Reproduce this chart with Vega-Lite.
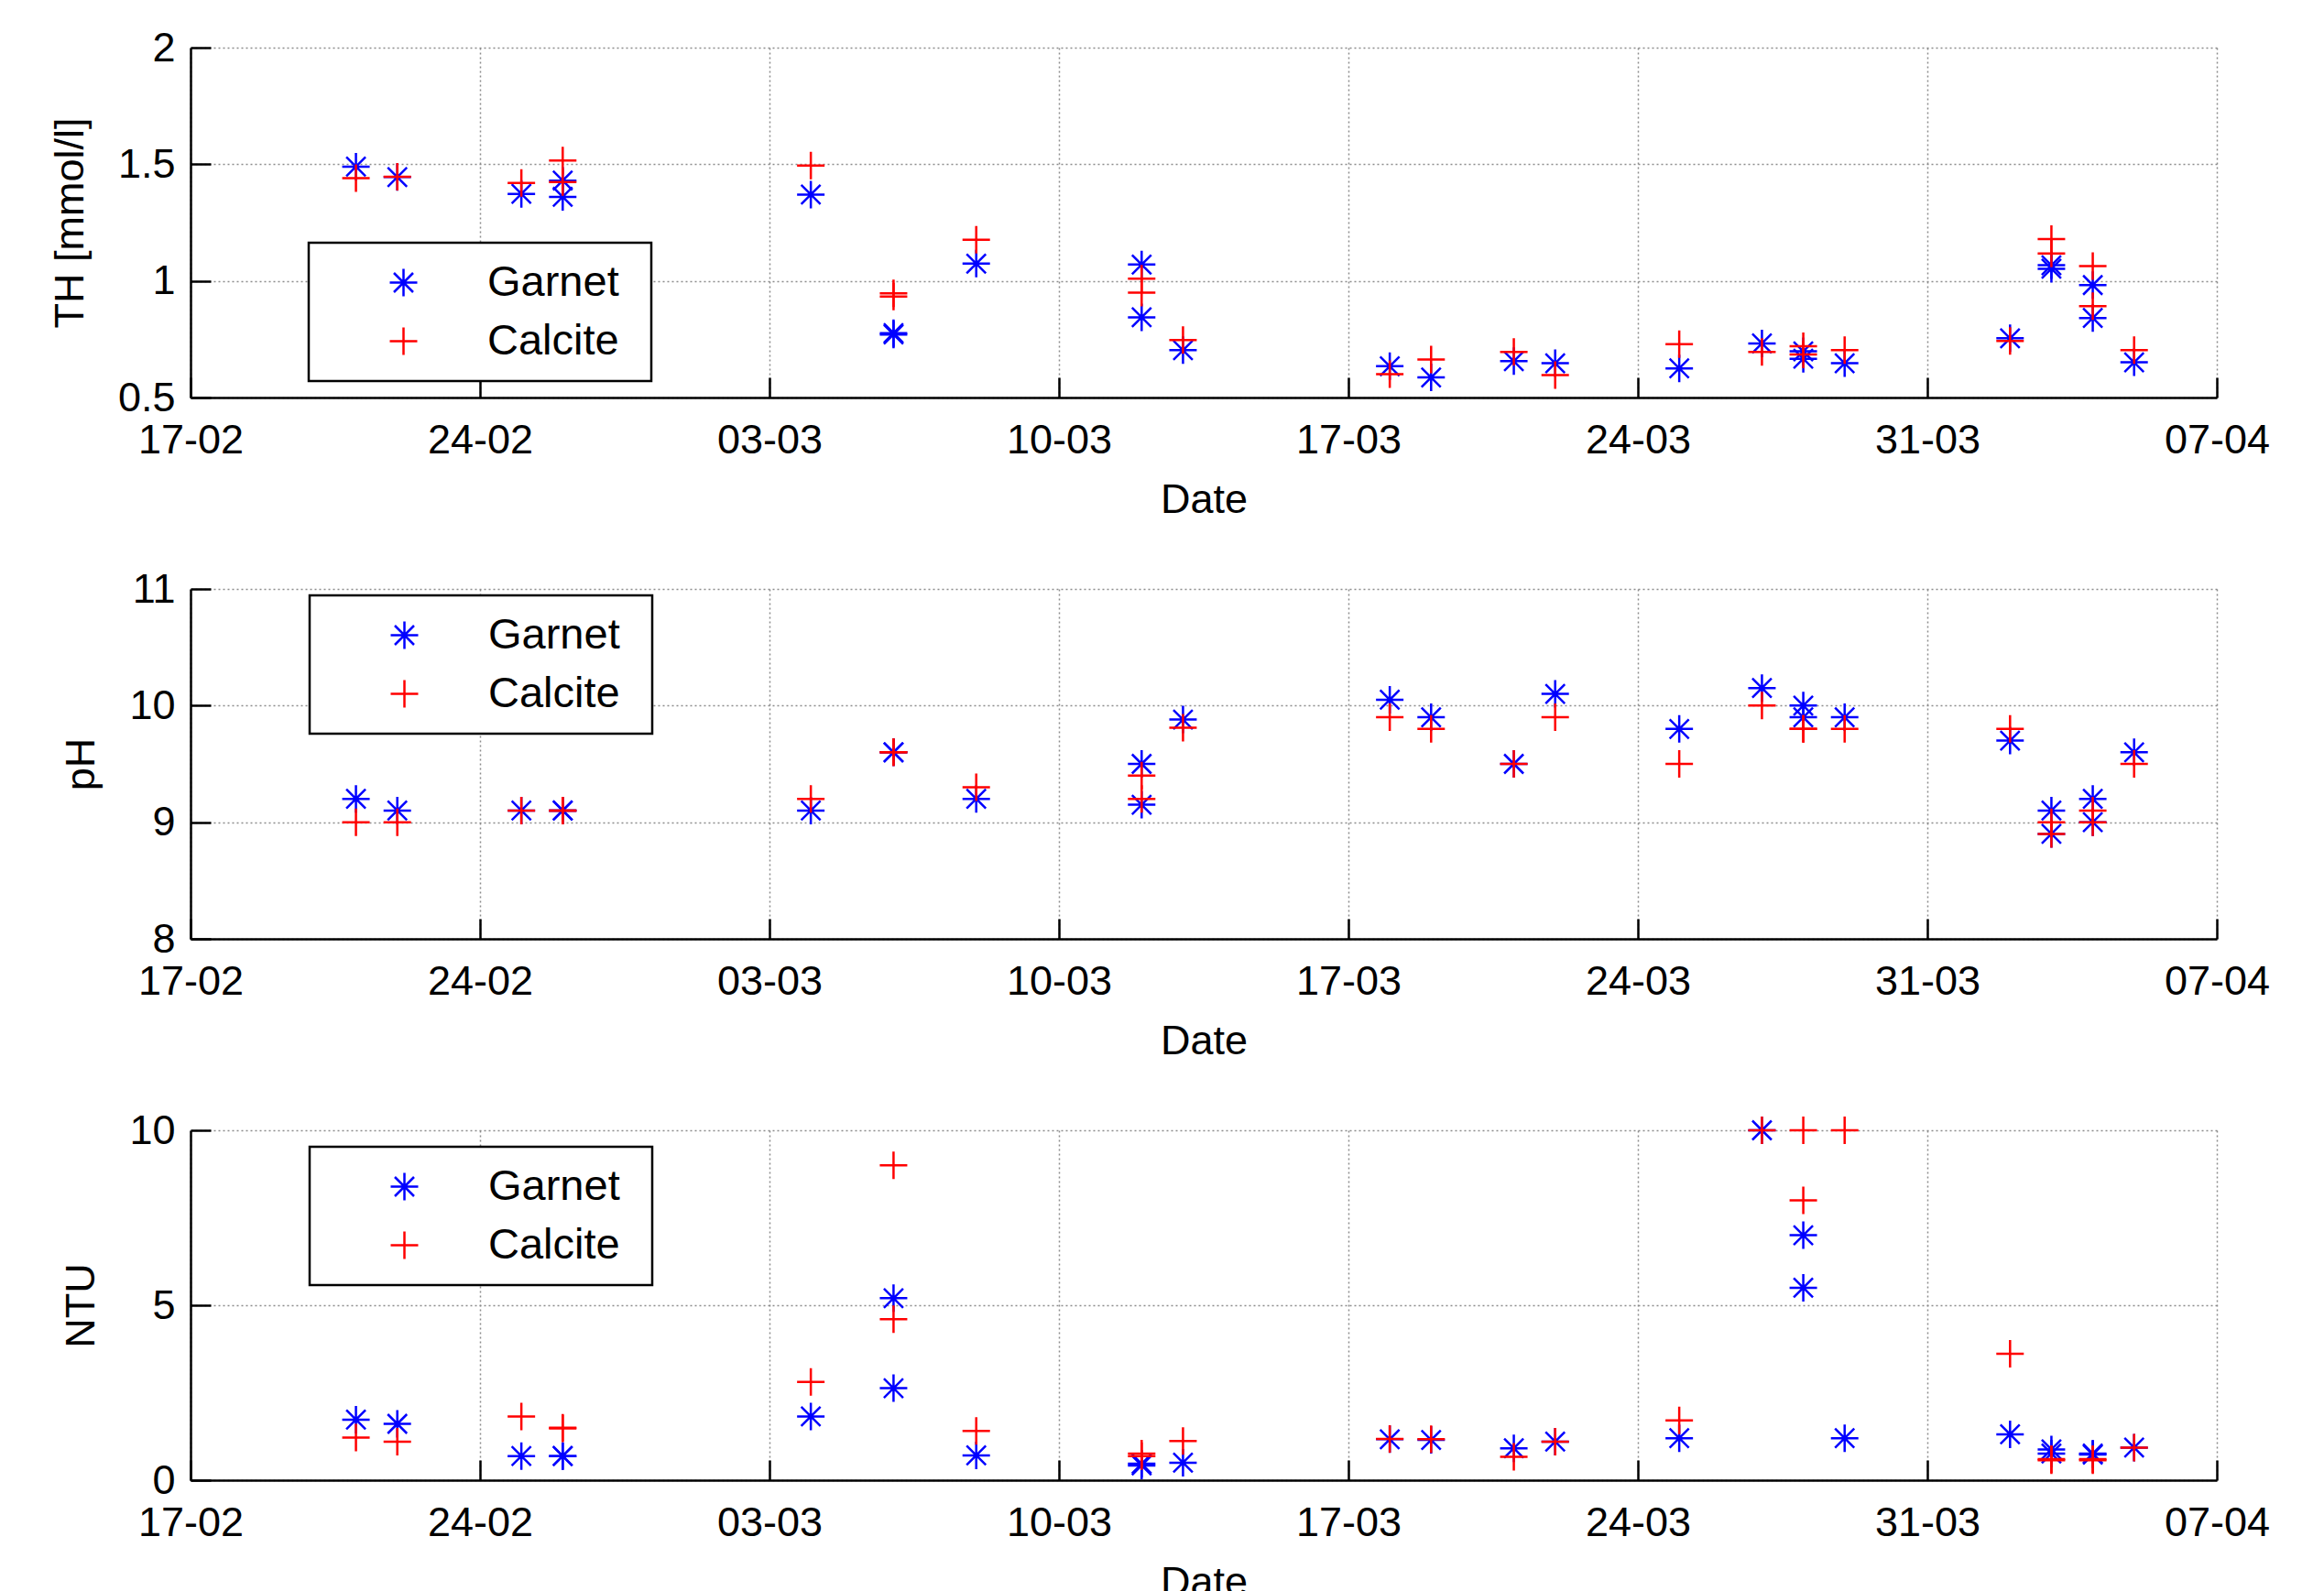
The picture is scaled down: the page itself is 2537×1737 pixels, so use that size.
{
  "$schema": "https://vega.github.io/schema/vega-lite/v6.json",
  "padding": {"top": 30, "left": 54, "right": 0, "bottom": 0},
  "background": "white",
  "spacing": 53,
  "data": {"values": [
    {"date":"2015-02-21","material":"Garnet","param":"TH","value":1.49},
    {"date":"2015-02-22","material":"Garnet","param":"TH","value":1.445},
    {"date":"2015-02-25","material":"Garnet","param":"TH","value":1.373},
    {"date":"2015-02-26","material":"Garnet","param":"TH","value":1.43},
    {"date":"2015-02-26","material":"Garnet","param":"TH","value":1.36},
    {"date":"2015-03-04","material":"Garnet","param":"TH","value":1.37},
    {"date":"2015-03-06","material":"Garnet","param":"TH","value":0.776},
    {"date":"2015-03-06","material":"Garnet","param":"TH","value":0.77},
    {"date":"2015-03-08","material":"Garnet","param":"TH","value":1.074},
    {"date":"2015-03-12","material":"Garnet","param":"TH","value":1.07},
    {"date":"2015-03-12","material":"Garnet","param":"TH","value":0.844},
    {"date":"2015-03-13","material":"Garnet","param":"TH","value":0.703},
    {"date":"2015-03-18","material":"Garnet","param":"TH","value":0.634},
    {"date":"2015-03-19","material":"Garnet","param":"TH","value":0.586},
    {"date":"2015-03-21","material":"Garnet","param":"TH","value":0.656},
    {"date":"2015-03-22","material":"Garnet","param":"TH","value":0.647},
    {"date":"2015-03-25","material":"Garnet","param":"TH","value":0.625},
    {"date":"2015-03-27","material":"Garnet","param":"TH","value":0.732},
    {"date":"2015-03-28","material":"Garnet","param":"TH","value":0.698},
    {"date":"2015-03-28","material":"Garnet","param":"TH","value":0.666},
    {"date":"2015-03-29","material":"Garnet","param":"TH","value":0.647},
    {"date":"2015-04-02","material":"Garnet","param":"TH","value":0.754},
    {"date":"2015-04-03","material":"Garnet","param":"TH","value":1.067},
    {"date":"2015-04-03","material":"Garnet","param":"TH","value":1.052},
    {"date":"2015-04-04","material":"Garnet","param":"TH","value":0.982},
    {"date":"2015-04-04","material":"Garnet","param":"TH","value":0.841},
    {"date":"2015-04-05","material":"Garnet","param":"TH","value":0.651},
    {"date":"2015-02-21","material":"Calcite","param":"TH","value":1.44},
    {"date":"2015-02-22","material":"Calcite","param":"TH","value":1.446},
    {"date":"2015-02-25","material":"Calcite","param":"TH","value":1.42},
    {"date":"2015-02-26","material":"Calcite","param":"TH","value":1.516},
    {"date":"2015-02-26","material":"Calcite","param":"TH","value":1.424},
    {"date":"2015-03-04","material":"Calcite","param":"TH","value":1.494},
    {"date":"2015-03-06","material":"Calcite","param":"TH","value":0.947},
    {"date":"2015-03-06","material":"Calcite","param":"TH","value":0.933},
    {"date":"2015-03-08","material":"Calcite","param":"TH","value":1.176},
    {"date":"2015-03-12","material":"Calcite","param":"TH","value":1.009},
    {"date":"2015-03-12","material":"Calcite","param":"TH","value":0.95},
    {"date":"2015-03-13","material":"Calcite","param":"TH","value":0.746},
    {"date":"2015-03-18","material":"Calcite","param":"TH","value":0.6},
    {"date":"2015-03-19","material":"Calcite","param":"TH","value":0.663},
    {"date":"2015-03-21","material":"Calcite","param":"TH","value":0.695},
    {"date":"2015-03-22","material":"Calcite","param":"TH","value":0.596},
    {"date":"2015-03-25","material":"Calcite","param":"TH","value":0.729},
    {"date":"2015-03-27","material":"Calcite","param":"TH","value":0.695},
    {"date":"2015-03-28","material":"Calcite","param":"TH","value":0.72},
    {"date":"2015-03-28","material":"Calcite","param":"TH","value":0.685},
    {"date":"2015-03-29","material":"Calcite","param":"TH","value":0.703},
    {"date":"2015-04-02","material":"Calcite","param":"TH","value":0.742},
    {"date":"2015-04-03","material":"Calcite","param":"TH","value":1.179},
    {"date":"2015-04-03","material":"Calcite","param":"TH","value":1.117},
    {"date":"2015-04-04","material":"Calcite","param":"TH","value":1.063},
    {"date":"2015-04-04","material":"Calcite","param":"TH","value":0.892},
    {"date":"2015-04-05","material":"Calcite","param":"TH","value":0.703},

    {"date":"2015-02-21","material":"Garnet","param":"pH","value":9.2},
    {"date":"2015-02-22","material":"Garnet","param":"pH","value":9.1},
    {"date":"2015-02-25","material":"Garnet","param":"pH","value":9.1},
    {"date":"2015-02-26","material":"Garnet","param":"pH","value":9.1},
    {"date":"2015-02-26","material":"Garnet","param":"pH","value":9.1},
    {"date":"2015-03-04","material":"Garnet","param":"pH","value":9.1},
    {"date":"2015-03-06","material":"Garnet","param":"pH","value":9.6},
    {"date":"2015-03-06","material":"Garnet","param":"pH","value":9.6},
    {"date":"2015-03-08","material":"Garnet","param":"pH","value":9.2},
    {"date":"2015-03-12","material":"Garnet","param":"pH","value":9.5},
    {"date":"2015-03-12","material":"Garnet","param":"pH","value":9.15},
    {"date":"2015-03-13","material":"Garnet","param":"pH","value":9.88},
    {"date":"2015-03-18","material":"Garnet","param":"pH","value":10.05},
    {"date":"2015-03-19","material":"Garnet","param":"pH","value":9.9},
    {"date":"2015-03-21","material":"Garnet","param":"pH","value":9.5},
    {"date":"2015-03-22","material":"Garnet","param":"pH","value":10.1},
    {"date":"2015-03-25","material":"Garnet","param":"pH","value":9.8},
    {"date":"2015-03-27","material":"Garnet","param":"pH","value":10.15},
    {"date":"2015-03-28","material":"Garnet","param":"pH","value":10.0},
    {"date":"2015-03-28","material":"Garnet","param":"pH","value":9.9},
    {"date":"2015-03-29","material":"Garnet","param":"pH","value":9.9},
    {"date":"2015-04-02","material":"Garnet","param":"pH","value":9.7},
    {"date":"2015-04-03","material":"Garnet","param":"pH","value":9.1},
    {"date":"2015-04-03","material":"Garnet","param":"pH","value":8.9},
    {"date":"2015-04-04","material":"Garnet","param":"pH","value":9.2},
    {"date":"2015-04-04","material":"Garnet","param":"pH","value":9.0},
    {"date":"2015-04-05","material":"Garnet","param":"pH","value":9.6},
    {"date":"2015-02-21","material":"Calcite","param":"pH","value":9.0},
    {"date":"2015-02-22","material":"Calcite","param":"pH","value":9.0},
    {"date":"2015-02-25","material":"Calcite","param":"pH","value":9.1},
    {"date":"2015-02-26","material":"Calcite","param":"pH","value":9.1},
    {"date":"2015-02-26","material":"Calcite","param":"pH","value":9.1},
    {"date":"2015-03-04","material":"Calcite","param":"pH","value":9.2},
    {"date":"2015-03-06","material":"Calcite","param":"pH","value":9.6},
    {"date":"2015-03-06","material":"Calcite","param":"pH","value":9.6},
    {"date":"2015-03-08","material":"Calcite","param":"pH","value":9.3},
    {"date":"2015-03-12","material":"Calcite","param":"pH","value":9.4},
    {"date":"2015-03-12","material":"Calcite","param":"pH","value":9.2},
    {"date":"2015-03-13","material":"Calcite","param":"pH","value":9.81},
    {"date":"2015-03-18","material":"Calcite","param":"pH","value":9.9},
    {"date":"2015-03-19","material":"Calcite","param":"pH","value":9.8},
    {"date":"2015-03-21","material":"Calcite","param":"pH","value":9.5},
    {"date":"2015-03-22","material":"Calcite","param":"pH","value":9.9},
    {"date":"2015-03-25","material":"Calcite","param":"pH","value":9.5},
    {"date":"2015-03-27","material":"Calcite","param":"pH","value":10.0},
    {"date":"2015-03-28","material":"Calcite","param":"pH","value":9.8},
    {"date":"2015-03-28","material":"Calcite","param":"pH","value":9.8},
    {"date":"2015-03-29","material":"Calcite","param":"pH","value":9.8},
    {"date":"2015-04-02","material":"Calcite","param":"pH","value":9.8},
    {"date":"2015-04-03","material":"Calcite","param":"pH","value":9.0},
    {"date":"2015-04-03","material":"Calcite","param":"pH","value":8.9},
    {"date":"2015-04-04","material":"Calcite","param":"pH","value":9.1},
    {"date":"2015-04-04","material":"Calcite","param":"pH","value":9.0},
    {"date":"2015-04-05","material":"Calcite","param":"pH","value":9.5},

    {"date":"2015-02-21","material":"Garnet","param":"NTU","value":1.73},
    {"date":"2015-02-22","material":"Garnet","param":"NTU","value":1.61},
    {"date":"2015-02-25","material":"Garnet","param":"NTU","value":0.69},
    {"date":"2015-02-26","material":"Garnet","param":"NTU","value":0.69},
    {"date":"2015-02-26","material":"Garnet","param":"NTU","value":0.69},
    {"date":"2015-03-04","material":"Garnet","param":"NTU","value":1.82},
    {"date":"2015-03-06","material":"Garnet","param":"NTU","value":5.2},
    {"date":"2015-03-06","material":"Garnet","param":"NTU","value":2.63},
    {"date":"2015-03-08","material":"Garnet","param":"NTU","value":0.71},
    {"date":"2015-03-12","material":"Garnet","param":"NTU","value":0.47},
    {"date":"2015-03-12","material":"Garnet","param":"NTU","value":0.42},
    {"date":"2015-03-13","material":"Garnet","param":"NTU","value":0.5},
    {"date":"2015-03-18","material":"Garnet","param":"NTU","value":1.17},
    {"date":"2015-03-19","material":"Garnet","param":"NTU","value":1.15},
    {"date":"2015-03-21","material":"Garnet","param":"NTU","value":0.91},
    {"date":"2015-03-22","material":"Garnet","param":"NTU","value":1.1},
    {"date":"2015-03-25","material":"Garnet","param":"NTU","value":1.2},
    {"date":"2015-03-27","material":"Garnet","param":"NTU","value":10.0},
    {"date":"2015-03-28","material":"Garnet","param":"NTU","value":7.0},
    {"date":"2015-03-28","material":"Garnet","param":"NTU","value":5.5},
    {"date":"2015-03-29","material":"Garnet","param":"NTU","value":1.2},
    {"date":"2015-04-02","material":"Garnet","param":"NTU","value":1.31},
    {"date":"2015-04-03","material":"Garnet","param":"NTU","value":0.88},
    {"date":"2015-04-03","material":"Garnet","param":"NTU","value":0.76},
    {"date":"2015-04-04","material":"Garnet","param":"NTU","value":0.76},
    {"date":"2015-04-04","material":"Garnet","param":"NTU","value":0.73},
    {"date":"2015-04-05","material":"Garnet","param":"NTU","value":0.93},
    {"date":"2015-02-21","material":"Calcite","param":"NTU","value":1.22},
    {"date":"2015-02-22","material":"Calcite","param":"NTU","value":1.1},
    {"date":"2015-02-25","material":"Calcite","param":"NTU","value":1.82},
    {"date":"2015-02-26","material":"Calcite","param":"NTU","value":1.5},
    {"date":"2015-02-26","material":"Calcite","param":"NTU","value":1.48},
    {"date":"2015-03-04","material":"Calcite","param":"NTU","value":2.81},
    {"date":"2015-03-06","material":"Calcite","param":"NTU","value":9.0},
    {"date":"2015-03-06","material":"Calcite","param":"NTU","value":4.6},
    {"date":"2015-03-08","material":"Calcite","param":"NTU","value":1.41},
    {"date":"2015-03-12","material":"Calcite","param":"NTU","value":0.76},
    {"date":"2015-03-12","material":"Calcite","param":"NTU","value":0.69},
    {"date":"2015-03-13","material":"Calcite","param":"NTU","value":1.12},
    {"date":"2015-03-18","material":"Calcite","param":"NTU","value":1.18},
    {"date":"2015-03-19","material":"Calcite","param":"NTU","value":1.17},
    {"date":"2015-03-21","material":"Calcite","param":"NTU","value":0.67},
    {"date":"2015-03-22","material":"Calcite","param":"NTU","value":1.1},
    {"date":"2015-03-25","material":"Calcite","param":"NTU","value":1.71},
    {"date":"2015-03-27","material":"Calcite","param":"NTU","value":10.0},
    {"date":"2015-03-28","material":"Calcite","param":"NTU","value":10.0},
    {"date":"2015-03-28","material":"Calcite","param":"NTU","value":8.0},
    {"date":"2015-03-29","material":"Calcite","param":"NTU","value":10.0},
    {"date":"2015-04-02","material":"Calcite","param":"NTU","value":3.61},
    {"date":"2015-04-03","material":"Calcite","param":"NTU","value":0.57},
    {"date":"2015-04-03","material":"Calcite","param":"NTU","value":0.6},
    {"date":"2015-04-04","material":"Calcite","param":"NTU","value":0.57},
    {"date":"2015-04-04","material":"Calcite","param":"NTU","value":0.6},
    {"date":"2015-04-05","material":"Calcite","param":"NTU","value":0.93}
  ]},
  "resolve": {"scale": {"y": "independent"}, "legend": {"color": "independent", "shape": "independent"}},
  "vconcat": [
    {
      "width": 2212, "height": 382,
      "transform": [{"filter": "datum.param === 'TH'"}],
      "mark": {"type": "point", "filled": false, "opacity": 1, "strokeWidth": 2.5, "size": 900},
      "encoding": {
        "x": {"field": "date", "type": "temporal", "title": "Date",
          "scale": {"type": "utc", "domain": [{"year": 2015, "month": 2, "date": 17, "utc": true}, {"year": 2015, "month": 4, "date": 7, "utc": true}], "nice": false},
          "axis": {"labelExpr": "utcFormat(datum.value, '%d-%m')", "values": [{"year": 2015, "month": 2, "date": 17, "utc": true}, {"year": 2015, "month": 2, "date": 24, "utc": true}, {"year": 2015, "month": 3, "date": 3, "utc": true}, {"year": 2015, "month": 3, "date": 10, "utc": true}, {"year": 2015, "month": 3, "date": 17, "utc": true}, {"year": 2015, "month": 3, "date": 24, "utc": true}, {"year": 2015, "month": 3, "date": 31, "utc": true}, {"year": 2015, "month": 4, "date": 7, "utc": true}]}},
        "y": {"field": "value", "type": "quantitative", "title": "TH [mmol/l]",
          "scale": {"domain": [0.5, 2], "nice": false, "zero": false},
          "axis": {"values": [0.5, 1, 1.5, 2], "format": ".1~f"}},
        "color": {"field": "material", "type": "nominal", "scale": {"domain": ["Garnet", "Calcite"], "range": ["#0000ff", "#ff0000"]}, "legend": {"orient": "none", "legendX": 129, "legendY": 213, "title": ".", "titleOrient": "right", "titlePadding": 12, "titleFontSize": 10, "titleColor": "white"}},
        "shape": {"field": "material", "type": "nominal", "scale": {"domain": ["Garnet", "Calcite"], "range": ["M-1,0H1M0,-1V1M-0.7,-0.7L0.7,0.7M-0.7,0.7L0.7,-0.7", "M-1,0H1M0,-1V1"]}, "legend": {"orient": "none", "legendX": 129, "legendY": 213, "title": ".", "titleOrient": "right", "titlePadding": 12, "titleFontSize": 10, "titleColor": "white"}}
      }
    },
    {
      "width": 2212, "height": 382,
      "transform": [{"filter": "datum.param === 'pH'"}],
      "mark": {"type": "point", "filled": false, "opacity": 1, "strokeWidth": 2.5, "size": 900},
      "encoding": {
        "x": {"field": "date", "type": "temporal", "title": "Date",
          "scale": {"type": "utc", "domain": [{"year": 2015, "month": 2, "date": 17, "utc": true}, {"year": 2015, "month": 4, "date": 7, "utc": true}], "nice": false},
          "axis": {"labelExpr": "utcFormat(datum.value, '%d-%m')", "values": [{"year": 2015, "month": 2, "date": 17, "utc": true}, {"year": 2015, "month": 2, "date": 24, "utc": true}, {"year": 2015, "month": 3, "date": 3, "utc": true}, {"year": 2015, "month": 3, "date": 10, "utc": true}, {"year": 2015, "month": 3, "date": 17, "utc": true}, {"year": 2015, "month": 3, "date": 24, "utc": true}, {"year": 2015, "month": 3, "date": 31, "utc": true}, {"year": 2015, "month": 4, "date": 7, "utc": true}]}},
        "y": {"field": "value", "type": "quantitative", "title": "pH",
          "scale": {"domain": [8, 11], "nice": false, "zero": false},
          "axis": {"values": [8, 9, 10, 11], "format": ".1~f"}},
        "color": {"field": "material", "type": "nominal", "scale": {"domain": ["Garnet", "Calcite"], "range": ["#0000ff", "#ff0000"]}, "legend": {"orient": "none", "legendX": 130, "legendY": 7, "title": ".", "titleOrient": "right", "titlePadding": 12, "titleFontSize": 10, "titleColor": "white"}},
        "shape": {"field": "material", "type": "nominal", "scale": {"domain": ["Garnet", "Calcite"], "range": ["M-1,0H1M0,-1V1M-0.7,-0.7L0.7,0.7M-0.7,0.7L0.7,-0.7", "M-1,0H1M0,-1V1"]}, "legend": {"orient": "none", "legendX": 130, "legendY": 7, "title": ".", "titleOrient": "right", "titlePadding": 12, "titleFontSize": 10, "titleColor": "white"}}
      }
    },
    {
      "width": 2212, "height": 382,
      "transform": [{"filter": "datum.param === 'NTU'"}],
      "mark": {"type": "point", "filled": false, "opacity": 1, "strokeWidth": 2.5, "size": 900},
      "encoding": {
        "x": {"field": "date", "type": "temporal", "title": "Date",
          "scale": {"type": "utc", "domain": [{"year": 2015, "month": 2, "date": 17, "utc": true}, {"year": 2015, "month": 4, "date": 7, "utc": true}], "nice": false},
          "axis": {"labelExpr": "utcFormat(datum.value, '%d-%m')", "values": [{"year": 2015, "month": 2, "date": 17, "utc": true}, {"year": 2015, "month": 2, "date": 24, "utc": true}, {"year": 2015, "month": 3, "date": 3, "utc": true}, {"year": 2015, "month": 3, "date": 10, "utc": true}, {"year": 2015, "month": 3, "date": 17, "utc": true}, {"year": 2015, "month": 3, "date": 24, "utc": true}, {"year": 2015, "month": 3, "date": 31, "utc": true}, {"year": 2015, "month": 4, "date": 7, "utc": true}]}},
        "y": {"field": "value", "type": "quantitative", "title": "NTU",
          "scale": {"domain": [0, 10], "nice": false, "zero": false},
          "axis": {"values": [0, 5, 10], "format": ".1~f"}},
        "color": {"field": "material", "type": "nominal", "scale": {"domain": ["Garnet", "Calcite"], "range": ["#0000ff", "#ff0000"]}, "legend": {"orient": "none", "legendX": 130, "legendY": 18, "title": ".", "titleOrient": "right", "titlePadding": 12, "titleFontSize": 10, "titleColor": "white"}},
        "shape": {"field": "material", "type": "nominal", "scale": {"domain": ["Garnet", "Calcite"], "range": ["M-1,0H1M0,-1V1M-0.7,-0.7L0.7,0.7M-0.7,0.7L0.7,-0.7", "M-1,0H1M0,-1V1"]}, "legend": {"orient": "none", "legendX": 130, "legendY": 18, "title": ".", "titleOrient": "right", "titlePadding": 12, "titleFontSize": 10, "titleColor": "white"}}
      }
    }
  ],
  "config": {
    "view": {"stroke": null},
    "font": "Liberation Sans",
    "axis": {
      "labelFont": "Liberation Sans", "labelFontSize": 45, "labelColor": "black",
      "titleFont": "Liberation Sans", "titleFontSize": 45, "titleFontWeight": "normal", "titleColor": "black",
      "domainColor": "black", "domainWidth": 2.5,
      "tickColor": "black", "tickWidth": 2.5, "tickSize": -22,
      "grid": true, "gridColor": "#8c8c8c", "gridDash": [2, 3], "gridWidth": 1.5,
      "labelFlush": false, "labelOverlap": false
    },
    "axisX": {"labelPadding": 46, "titlePadding": 20},
    "axisY": {"labelPadding": 39, "titlePadding": 29},
    "legend": {
      "padding": 20, "strokeColor": "black", "strokeWidth": 2.5, "fillColor": "white",
      "labelFont": "Liberation Sans", "labelFontSize": 47, "labelColor": "black",
      "symbolSize": 900, "symbolStrokeWidth": 2.5, "rowPadding": 16,
      "symbolOffset": 60, "labelOffset": 68
    }
  }
}
